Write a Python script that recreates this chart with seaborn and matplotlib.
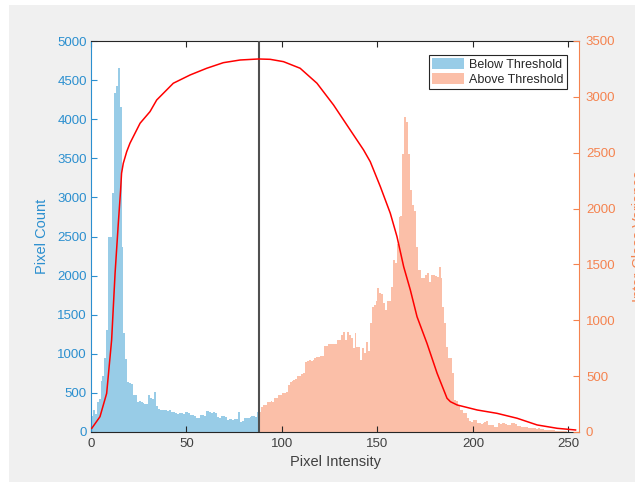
import numpy as np
import pandas as pd
import seaborn as sns
import matplotlib.pyplot as plt
from matplotlib.patches import Patch, Rectangle

# histogram of an 8-bit image: counts per intensity 0..255
counts = [
    200, 280, 230, 380, 420, 650, 720, 950, 1300, 2500,
    2500, 3050, 4330, 4420, 4650, 4150, 2370, 1270, 930, 640,
    630, 620, 470, 470, 390, 400, 380, 365, 360, 355,
    470, 440, 420, 515, 330, 300, 285, 280, 275, 285,
    270, 275, 260, 250, 240, 235, 245, 240, 235, 250,
    255, 245, 220, 215, 210, 180, 185, 215, 220, 210,
    270, 265, 250, 245, 255, 240, 190, 180, 200, 205,
    195, 155, 160, 165, 155, 160, 165, 250, 130, 135,
    180, 175, 185, 190, 200, 205, 195, 250, 260, 325,
    345, 345, 380, 390, 395, 390, 430, 440, 470, 475,
    500, 505, 510, 600, 640, 650, 670, 680, 715, 720,
    745, 750, 900, 905, 915, 910, 920, 950, 960, 955,
    970, 975, 1100, 1105, 1120, 1125, 1130, 1120, 1130, 1175,
    1180, 1240, 1280, 1180, 1285, 1240, 1200, 1075, 1260, 1090,
    1090, 920, 1070, 1010, 1150, 1040, 1400, 1600, 1620, 1670,
    1840, 1780, 1770, 1650, 1560, 1670, 1680, 1860, 2200, 2160,
    2410, 2750, 2760, 3560, 4030, 3970, 3560, 3100, 2900, 2820,
    2370, 2070, 2070, 1965, 1965, 2010, 2030, 1920, 2010, 2005,
    1990, 1985, 2110, 1965, 1600, 1390, 1090, 940, 940, 750,
    410, 400, 345, 280, 275, 240, 240, 180, 135, 130,
    150, 155, 110, 115, 105, 120, 130, 135, 90, 85,
    95, 70, 65, 110, 105, 115, 110, 100, 90, 85,
    110, 115, 105, 80, 75, 70, 65, 70, 65, 50,
    45, 50, 45, 40, 45, 40, 35, 30, 25, 28,
    25, 20, 22, 18, 15, 12, 10, 10, 8, 6,
    5, 4, 3, 2, 2, 1,
]
intensity = np.arange(256)
threshold = 88

var_x = [0.4, 4.7, 8.2, 10.8, 12.6, 14.3, 15.5, 16.0, 16.9, 18.7, 20.4, 25.7,
         30.9, 34.4, 43.1, 51.9, 60.6, 69.3, 78.1, 87.7, 93.8, 100.8, 109.5,
         118.3, 127.0, 135.7, 142.7, 146.2, 151.5, 156.7, 160.2, 163.7, 167.2,
         170.7, 175.9, 181.2, 186.4, 188.2, 191.7, 202.2, 212.6, 223.1, 233.6,
         244.1, 253.7]
var_y = [33, 137, 346, 824, 1420, 1868, 2166, 2316, 2405, 2510, 2585, 2764,
         2868, 2972, 3122, 3196, 3256, 3306, 3330, 3339, 3336, 3315, 3256,
         3122, 2927, 2704, 2525, 2420, 2196, 1958, 1749, 1480, 1271,
         1032, 794, 526, 302, 271, 242, 197, 167, 123, 63,
         33, 18]

df = pd.DataFrame({'intensity': intensity, 'count': counts})
df['side'] = np.where(df['intensity'] < threshold, 'Below Threshold', 'Above Threshold')
df_var = pd.DataFrame({'x': var_x, 'variance': var_y})

blue_bar = '#98CCE7'
salmon_bar = '#FBBFA8'
left_col = '#2B8FCF'
right_col = '#F5834F'
dark = '#262626'

plt.rcParams['font.family'] = ['Liberation Sans', 'DejaVu Sans']

fig = plt.figure(figsize=(6.35, 4.82), dpi=100)
fig.patch.set_facecolor('white')
# grey MATLAB-like figure area
fig.add_artist(Rectangle((9 / 635, 0), 1, 1 - 5 / 482, transform=fig.transFigure,
                         facecolor='#F0F0F0', edgecolor='none', zorder=-10))
ax = fig.add_axes([91 / 635, 1 - 432 / 482, 488 / 635, 391 / 482])

for side, col in [('Below Threshold', blue_bar), ('Above Threshold', salmon_bar)]:
    sub = df[df['side'] == side]
    sns.histplot(data=sub, x='intensity', weights='count', binwidth=1,
                 binrange=(sub['intensity'].min(), sub['intensity'].max() + 1),
                 element='step', fill=True, color=col, alpha=1, linewidth=0, ax=ax)

ax.axvline(threshold, color='#505050', linewidth=1.5, zorder=3)

ax.set_xlim(0, 255.5)
ax.set_ylim(0, 5000)
ax.set_xticks([0, 50, 100, 150, 200, 250])
ax.set_yticks(np.arange(0, 5001, 500))
ax.set_xlabel('Pixel Intensity', fontsize=10.5, color='#404040', labelpad=4)
ax.set_ylabel('Pixel Count', fontsize=10.5, color=left_col, labelpad=6)
ax.tick_params(axis='x', direction='in', length=4, top=True, labelsize=9.5,
               colors=dark, labelcolor='#404040', width=0.8, pad=4)
ax.tick_params(axis='y', direction='in', length=4, labelsize=9.5,
               colors=left_col, width=0.8, pad=3)
ax.spines['left'].set_color(left_col)
ax.spines['bottom'].set_color(dark)
ax.spines['top'].set_color(dark)
ax.spines['right'].set_visible(False)
for s in ax.spines.values():
    s.set_linewidth(0.8)

ax2 = ax.twinx()
sns.lineplot(data=df_var, x='x', y='variance', color='red', linewidth=1.1, ax=ax2)
ax2.set_ylim(0, 3500)
ax2.set_yticks(np.arange(0, 3501, 500))
# the reference figure crops this label at the right edge
ax2.set_ylabel('Inter-Class Variance', fontsize=10.5, color=right_col, labelpad=12)
ax2.tick_params(axis='y', direction='in', length=4, labelsize=9.5,
                colors=right_col, width=0.8, pad=5)
ax2.spines['right'].set_color(right_col)
ax2.spines['right'].set_linewidth(0.8)
ax2.spines['left'].set_visible(False)
ax2.spines['top'].set_visible(False)
ax2.spines['bottom'].set_visible(False)

handles = [Patch(facecolor=blue_bar, edgecolor='none', label='Below Threshold'),
           Patch(facecolor=salmon_bar, edgecolor='none', label='Above Threshold')]
leg = ax2.legend(handles=handles, loc='upper right', bbox_to_anchor=(0.975, 0.965),
                 fontsize=9, frameon=True, fancybox=False, framealpha=1,
                 edgecolor=dark, handlelength=2.6, handleheight=1.0,
                 handletextpad=0.4, borderpad=0.25, labelspacing=0.2,
                 borderaxespad=0)
leg.get_frame().set_linewidth(0.8)
for t in leg.get_texts():
    t.set_color(dark)

fig.savefig('out.png', dpi=100)
